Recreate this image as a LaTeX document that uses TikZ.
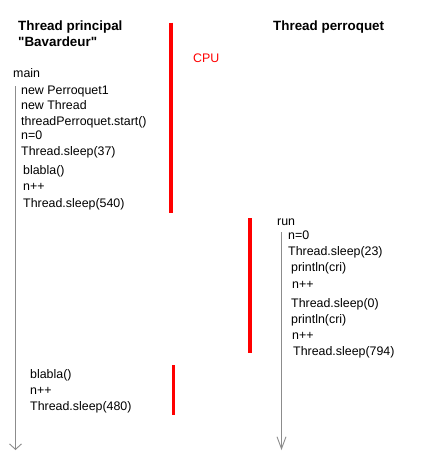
\documentclass[tikz,border=0pt]{standalone}
\usepackage{fontspec}
\setmainfont{Liberation Sans}[Ligatures=TeXOff]
\usetikzlibrary{arrows.meta}
\definecolor{cpured}{RGB}{255,0,0}
\definecolor{lifegray}{RGB}{140,140,140}
\begin{document}
\begin{tikzpicture}[x=1pt,y=-1pt,
  txt/.style={anchor=base west,inner sep=0pt,font=\fontsize{12.4}{14}\selectfont},
  ttl/.style={anchor=base west,inner sep=0pt,font=\fontsize{13.4}{15}\selectfont\bfseries},
  cpubar/.style={draw=cpured,line width=3.8pt},
  lifeline/.style={draw=lifegray,line width=0.9pt},
  headL/.style={-{Straight Barb[length=5.5pt,width=12pt,line width=0.9pt]}},
  headR/.style={-{Straight Barb[length=12pt,width=9pt,line width=0.9pt]}}]
\useasboundingbox (0,0) rectangle (421,464);
% titles
\node[ttl] (t1) at (18,30) {Thread principal};
\node[ttl] (t2) at (18,46) {"Bavardeur"};
\node[ttl] (t3) at (273,30) {Thread perroquet};
\node[txt,text=cpured] (cpu) at (193,62) {CPU};
% main thread
\node[txt] (main) at (13,77) {main};
\node[txt] (m1) at (21,94) {new Perroquet1};
\node[txt] (m2) at (21,109) {new Thread};
\node[txt] (m3) at (21,125) {threadPerroquet.start()};
\node[txt] (m4) at (21,139) {n=0};
\node[txt] (m5) at (21,155) {Thread.sleep(37)};
\node[txt] (m6) at (23,174) {blabla()};
\node[txt] (m7) at (23,190) {n++};
\node[txt] (m8) at (23,207) {Thread.sleep(540)};
\node[txt] (m9) at (30,378) {blabla()};
\node[txt] (m10) at (30,394) {n++};
\node[txt] (m11) at (30,410) {Thread.sleep(480)};
% perroquet thread
\node[txt] (run) at (277,225) {run};
\node[txt] (r1) at (288,239) {n=0};
\node[txt] (r2) at (288,255) {Thread.sleep(23)};
\node[txt] (r3) at (291,271) {println(cri)};
\node[txt] (r4) at (292,288) {n++};
\node[txt] (r5) at (291,307) {Thread.sleep(0)};
\node[txt] (r6) at (291,323) {println(cri)};
\node[txt] (r7) at (292,339) {n++};
\node[txt] (r8) at (293,355) {Thread.sleep(794)};
% lifelines
\coordinate (mtop) at (15.5,86);
\coordinate (mend) at (15.5,450);
\coordinate (rtop) at (281.5,232);
\coordinate (rend) at (281.5,450);
\draw[lifeline,headL] (mtop) -- (mend);
\draw[lifeline,headR] (rtop) -- (rend);
% CPU bars
\draw[cpubar] (170.8,22.5) -- (170.8,212.5);
\draw[cpubar] (250,218) -- (250,352.5);
\draw[cpubar] (173.5,365) -- (173.5,415);
\end{tikzpicture}
\end{document}
